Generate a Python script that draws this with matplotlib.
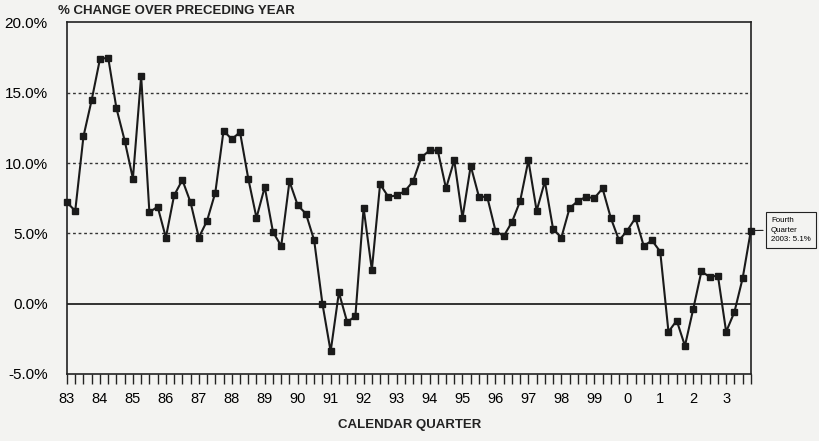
import matplotlib
matplotlib.use("Agg")
import matplotlib.pyplot as plt
import numpy as np

plt.rcParams['font.family'] = ['Liberation Sans', 'DejaVu Sans']

year_labels = ["83", "84", "85", "86", "87", "88", "89", "90", "91", "92", "93",
               "94", "95", "96", "97", "98", "99", "0", "1", "2", "3"]

# quarterly % change over preceding year, 1983 Q1 .. 2003 Q4
pct_change = [
    7.2, 6.6, 11.9, 14.5, 17.4, 17.5, 13.9, 11.6,   # 83-84
    8.9, 16.2, 6.5, 6.9, 4.7, 7.7, 8.8, 7.2,         # 85-86
    4.7, 5.9, 7.9, 12.3, 11.7, 12.2, 8.9, 6.1,       # 87-88
    8.3, 5.1, 4.1, 8.7, 7.0, 6.4, 4.5, 0.0,          # 89-90
    -3.4, 0.8, -1.3, -0.9, 6.8, 2.4, 8.5, 7.6,       # 91-92
    7.7, 8.0, 8.7, 10.4, 10.9, 10.9, 8.2, 10.2,      # 93-94
    6.1, 9.8, 7.6, 7.6, 5.2, 4.8, 5.8, 7.3,          # 95-96
    10.2, 6.6, 8.7, 5.3, 4.7, 6.8, 7.3, 7.6,         # 97-98
    7.5, 8.2, 6.1, 4.5, 5.2, 6.1, 4.1, 4.5,          # 99-00
    3.7, -2.0, -1.2, -3.0, -0.4, 2.3, 1.9, 2.0,      # 01-02
    -2.0, -0.6, 1.8, 5.2,                            # 03
]
yticks = [-5, 0, 5, 10, 15, 20]
annot_text = "Fourth\nQuarter\n2003: 5.1%"

bg = "#f3f3f1"
fig = plt.figure(figsize=(8.19, 4.41), dpi=100, facecolor=bg)
ax = fig.add_axes([0.0818, 0.152, 0.835, 0.797], facecolor=bg)

x = np.arange(len(pct_change))
ax.set_xlim(0, len(pct_change) - 1)
ax.set_ylim(-5, 20)

for y in [5, 10, 15]:
    ax.axhline(y, color="#333333", lw=1.0, ls=(0, (2, 2)), zorder=1)
ax.axhline(0, color="#222222", lw=1.3, zorder=1)

ax.plot(x, pct_change, color="#1a1a1a", lw=1.5, marker="s", markersize=3.8,
        markerfacecolor="#1a1a1a", markeredgecolor="#1a1a1a", zorder=3, clip_on=False)

for s in ax.spines.values():
    s.set_color("#222222")
    s.set_linewidth(1.2)

ax.set_yticks(yticks)
ax.set_yticklabels([f"{v:.1f}%" for v in yticks], fontsize=11)
ax.tick_params(axis="y", length=0, pad=14)

ax.set_xticks(np.arange(0, len(pct_change), 4))
ax.set_xticklabels(year_labels, fontsize=10.5)
ax.set_xticks(x, minor=True)
ax.tick_params(axis="x", which="both", direction="out", length=7, width=1.0, color="#222222")
ax.tick_params(axis="x", which="major", pad=6)

fig.text(0.071, 0.968, "% CHANGE OVER PRECEDING YEAR", fontsize=9.5, fontweight="bold",
         ha="left", va="baseline", color="#222222")
fig.text(0.50, 0.029, "CALENDAR QUARTER", fontsize=9.5, fontweight="bold",
         ha="center", va="baseline", color="#222222")

ax.annotate(annot_text, xy=(x[-1], pct_change[-1]), xytext=(771 / 819, 1 - 230 / 441),
            textcoords="figure fraction", fontsize=5.7, ha="left", va="center",
            linespacing=1.5,
            bbox=dict(boxstyle="square,pad=0.6", fc=bg, ec="#222222", lw=0.8),
            arrowprops=dict(arrowstyle="-", color="#222222", lw=0.8),
            annotation_clip=False)

fig.savefig("out.png", dpi=100, facecolor=bg)
